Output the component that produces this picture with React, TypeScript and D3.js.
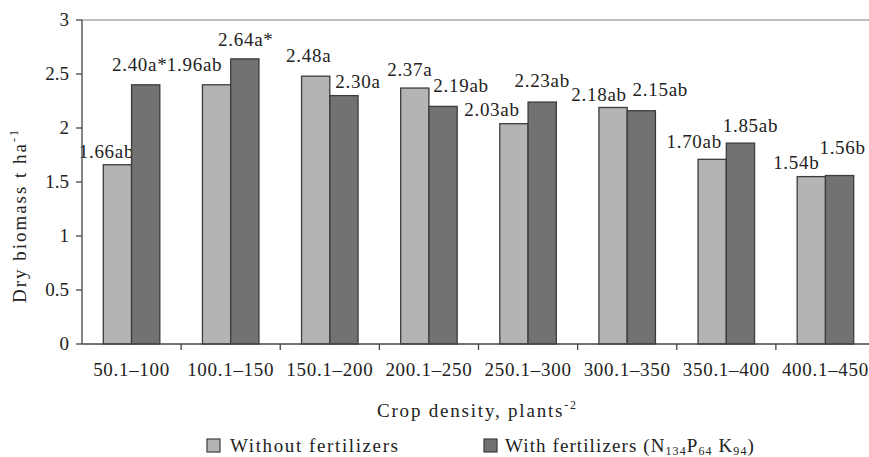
import React from "react";
import * as d3 from "d3";

// crop density classes, plants m-2
const categories = ["50.1–100", "100.1–150", "150.1–200", "200.1–250", "250.1–300", "300.1–350", "350.1–400", "400.1–450"];
// bar heights as drawn (t/ha)
const withoutFert = [1.66, 2.40, 2.48, 2.37, 2.04, 2.19, 1.71, 1.55];
const withFert = [2.40, 2.64, 2.30, 2.20, 2.24, 2.16, 1.86, 1.56];
// printed labels above bars
const withoutLabels = ["1.66ab", "1.96ab", "2.48a", "2.37a", "2.03ab", "2.18ab", "1.70ab", "1.54b"];
const withLabels = ["2.40a*", "2.64a*", "2.30a", "2.19ab", "2.23ab", "2.15ab", "1.85ab", "1.56b"];
const yTicks = [0, 0.5, 1, 1.5, 2, 2.5, 3];

// label nudges (px) relative to bar centre / bar top
const withoutDx = [-11, -22, -7, -5, -22, -14, -18, -15];
const withoutDy = [-7, -14, -14, -12, -8, -6, -11, -8];
const withDx = [-6, 1, 14, 18, 0, 19, 10, 3];
const withDy = [-14, -13, -8, -14, -15, -15, -11, -22];

const W = 869;
const H = 457;
const m = { left: 82, top: 20, right: 875, bottom: 344 };
const font = "'Liberation Serif', 'Times New Roman', serif";
const light = "#b4b4b4";
const dark = "#727272";
const edge = "#3c3c3c";

export default function App() {
  const x0 = d3.scaleBand<string>().domain(categories).range([m.left, m.right]).paddingInner(0.43).paddingOuter(0.215);
  const x1 = d3.scaleBand<string>().domain(["without", "with"]).range([0, x0.bandwidth()]);
  const y = d3.scaleLinear().domain([0, 3]).range([m.bottom, m.top]);
  const step = x0.step();

  const series = [
    { key: "without", vals: withoutFert, labels: withoutLabels, dx: withoutDx, dy: withoutDy, fill: light },
    { key: "with", vals: withFert, labels: withLabels, dx: withDx, dy: withDy, fill: dark },
  ];

  return (
    <svg width={W} height={H} style={{ position: "absolute", left: 0, top: 0, fontFamily: font }}>
      <rect width={W} height={H} fill="#fff" />
      {/* top frame line */}
      <line x1={m.left} x2={W} y1={m.top} y2={m.top} stroke="#a8a8a8" strokeWidth={1.5} />

      {series.map((s) =>
        categories.map((c, i) => {
          const bx = (x0(c) as number) + (x1(s.key) as number);
          const by = y(s.vals[i]);
          const bw = x1.bandwidth();
          return (
            <g key={s.key + c}>
              <rect x={bx} y={by} width={bw} height={m.bottom - by} fill={s.fill} stroke={edge} strokeWidth={1.3} />
              <text x={bx + bw / 2 + s.dx[i]} y={by + s.dy[i]} textAnchor="middle" fontSize={19} letterSpacing={0.7} fill="#222">
                {s.labels[i]}
              </text>
            </g>
          );
        })
      )}

      {/* y axis */}
      <line x1={m.left} x2={m.left} y1={m.top} y2={m.bottom} stroke="#444" strokeWidth={1.3} />
      {yTicks.map((t) => (
        <g key={t}>
          <line x1={m.left - 6} x2={m.left} y1={y(t)} y2={y(t)} stroke="#444" strokeWidth={1.3} />
          <text x={m.left - 13} y={y(t) + 6} textAnchor="end" fontSize={19} fill="#222">
            {t}
          </text>
        </g>
      ))}

      {/* x axis */}
      <line x1={m.left} x2={W} y1={m.bottom} y2={m.bottom} stroke="#444" strokeWidth={1.3} />
      {categories.map((c, i) => {
        const bx = (x0(c) as number) - (step - x0.bandwidth()) / 2;
        return (
          <g key={c}>
            {i > 0 && <line x1={bx} x2={bx} y1={m.bottom} y2={m.bottom + 6} stroke="#444" strokeWidth={1.3} />}
            <text x={(x0(c) as number) + x0.bandwidth() / 2} y={376} textAnchor="middle" fontSize={19} letterSpacing={0.7} fill="#222">
              {c}
            </text>
          </g>
        );
      })}

      {/* axis titles */}
      <text x={476.5} y={417} textAnchor="middle" fontSize={19} textLength={199} lengthAdjust="spacing" fill="#222">
        Crop density, plants<tspan fontSize={12} dy={-8}>-2</tspan>
      </text>
      <text transform="translate(26,216.5) rotate(-90)" textAnchor="middle" fontSize={19} textLength={173} lengthAdjust="spacing" fill="#222">
        Dry biomass t ha<tspan fontSize={12} dy={-8}>-1</tspan>
      </text>

      {/* legend */}
      <rect x={207} y={439} width={13} height={13} fill={light} stroke={edge} strokeWidth={1.2} />
      <text x={230} y={452} fontSize={19} textLength={168} lengthAdjust="spacing" fill="#222">Without fertilizers</text>
      <rect x={484} y={439} width={13} height={13} fill={dark} stroke={edge} strokeWidth={1.2} />
      <text x={505} y={452} fontSize={19} letterSpacing={1.1} fill="#222">
        With fertilizers (N<tspan fontSize={12} dy={3}>134</tspan>
        <tspan dy={-3}>P</tspan>
        <tspan fontSize={12} dy={3}>64</tspan>
        <tspan dy={-3}> K</tspan>
        <tspan fontSize={12} dy={3}>94</tspan>
        <tspan dy={-3}>)</tspan>
      </text>
    </svg>
  );
}
